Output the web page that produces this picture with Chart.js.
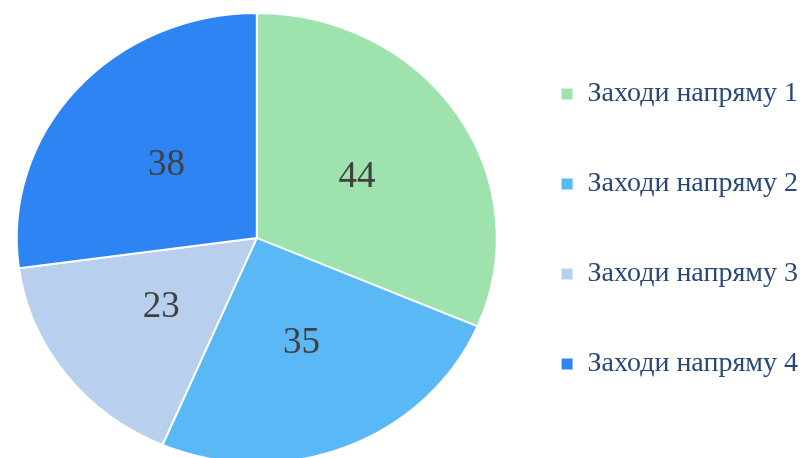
<!DOCTYPE html>
<html>
<head>
<meta charset="utf-8">
<script src="https://cdn.jsdelivr.net/npm/chart.js@4/dist/chart.umd.min.js"></script>
<style>
  html, body { margin: 0; padding: 0; background: #ffffff; }
  #c { display: block; }
</style>
</head>
<body>
<canvas id="c" width="805" height="458"></canvas>
<script>
// ---- data ----
const categories = ["Заходи напряму 1", "Заходи напряму 2", "Заходи напряму 3", "Заходи напряму 4"];
const values = [44, 35, 23, 38];
const sliceColors = ["#9EE3AE", "#5BB8F6", "#B8CFEE", "#2E84F2"];

// ---- styling constants ----
const SQUASH_Y = 0.9375;   // the reference pie is slightly elliptical
const PIE_CENTER_Y = 238;
const SERIF = "'Liberation Serif', 'Times New Roman', serif";

const ellipsePlugin = {
  id: 'ellipse',
  beforeDatasetsDraw(chart) {
    const ctx = chart.ctx, a = chart.chartArea;
    const cy = (a.top + a.bottom) / 2;
    ctx.save();
    ctx.translate(0, PIE_CENTER_Y);
    ctx.scale(1, SQUASH_Y);
    ctx.translate(0, -cy);
  },
  afterDatasetsDraw(chart) {
    chart.ctx.restore();
  },
  afterDraw(chart) {
    const ctx = chart.ctx, a = chart.chartArea;
    const cy = (a.top + a.bottom) / 2;
    const meta = chart.getDatasetMeta(0);
    ctx.save();
    ctx.font = "37px " + SERIF;
    ctx.fillStyle = "#404040";
    ctx.textAlign = "center";
    ctx.textBaseline = "middle";
    meta.data.forEach((arc, i) => {
      const p = arc.getCenterPoint();
      const y = PIE_CENTER_Y + (p.y - cy) * SQUASH_Y;
      ctx.fillText(String(values[i]), p.x, y + 1);
    });
    ctx.restore();
  }
};

new Chart(document.getElementById('c'), {
  type: 'pie',
  data: {
    labels: categories,
    datasets: [{
      data: values,
      backgroundColor: sliceColors,
      borderColor: '#ffffff',
      borderWidth: 2,
      radius: 240,
      clip: false
    }]
  },
  options: {
    responsive: false,
    animation: false,
    devicePixelRatio: 1,
    layout: { padding: { left: 15, right: -3, top: 2, bottom: 2 } },
    plugins: {
      tooltip: { enabled: false },
      legend: {
        position: 'right',
        labels: {
          boxWidth: 13,
          boxHeight: 13,
          padding: 62,
          color: '#284878',
          font: { family: SERIF, size: 28 }
        }
      }
    }
  },
  plugins: [ellipsePlugin]
});
</script>
</body>
</html>
